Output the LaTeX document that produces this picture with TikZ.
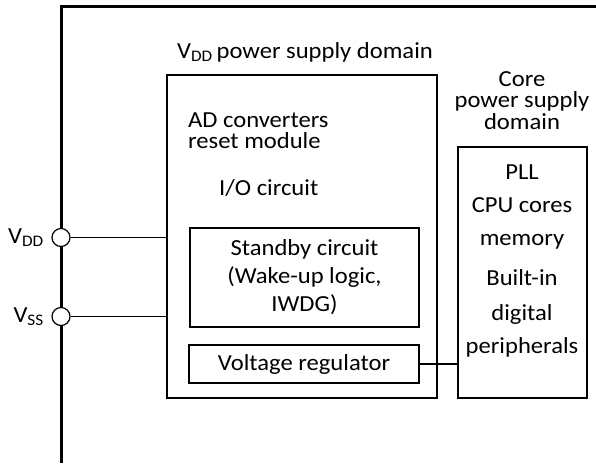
\documentclass[tikz,border=0pt]{standalone}
\usepackage{fontspec}
\setmainfont{Carlito}[FakeStretch=1.07]
\usetikzlibrary{positioning}

\begin{document}
\begin{tikzpicture}[
  x=1pt,y=-1pt,
  every node/.style={font=\fontsize{23}{21}\selectfont,inner sep=0pt},
  box/.style={draw,line width=1.4pt,inner sep=0pt},
  rail/.style={line width=3pt},
  wire/.style={line width=1.2pt},
  pin/.style={circle,draw,line width=1.2pt,fill=white,minimum size=18pt},
  lbl/.style={anchor=base}
]
  \useasboundingbox (0,0) rectangle (596,463);
  % supply rail
  \coordinate (railtop) at (596,6);
  \coordinate (railbot) at (61,463);
  \draw[rail] (railtop) -| (railbot);
  % domains
  \node[box,minimum width=270,minimum height=323] (vddbox) at (302,236.5) {};
  \node[box,minimum width=129,minimum height=251] (corebox) at (522.5,272.5) {};
  \node[box,minimum width=229,minimum height=99,align=center,
    font=\fontsize{23}{28}\selectfont] (standby) at (304.5,277.5)
    {Standby circuit\\(Wake-up logic,\\IWDG)};
  \node[box,minimum width=230,minimum height=38] (regulator) at (304,364)
    {Voltage regulator};
  % pins
  \node[pin] (vddpin) at (61,237.5) {};
  \node[pin] (vsspin) at (61,316.5) {};
  \node[anchor=base east] (vddlbl) at (44,243) {V\textsubscript{DD}};
  \node[anchor=base east] (vsslbl) at (44,322) {V\textsubscript{SS}};
  \draw[wire] (vddpin.east) -- (vddpin.east -| vddbox.west);
  \draw[wire,line width=0.9pt] (vsspin.east) -- (vsspin.east -| vddbox.west);
  \draw[wire] (regulator.east) -- (regulator.east -| corebox.west);
  % titles
  \node[lbl] (vddtitle) at (305,58) {V\textsubscript{DD}\,power supply domain};
  \node[lbl] (coretitle1) at (522,86) {Core};
  \node[lbl] (coretitle2) at (522,107) {power supply};
  \node[lbl] (coretitle3) at (522,129) {domain};
  % VDD domain contents
  \node[anchor=base west] (adc) at (188,127) {AD converters};
  \node[anchor=base west] (reset) at (188,148) {reset module};
  \node[anchor=base west] (io) at (219,195) {I/O circuit};
  % core domain contents
  \node[lbl] (pll) at (522,179) {PLL};
  \node[lbl] (cpu) at (522,212) {CPU cores};
  \node[lbl] (mem) at (522,245) {memory};
  \node[lbl] (builtin) at (522,285) {Built-in};
  \node[lbl] (digital) at (522,320) {digital};
  \node[lbl] (periph) at (522,353) {peripherals};
\end{tikzpicture}
\end{document}
